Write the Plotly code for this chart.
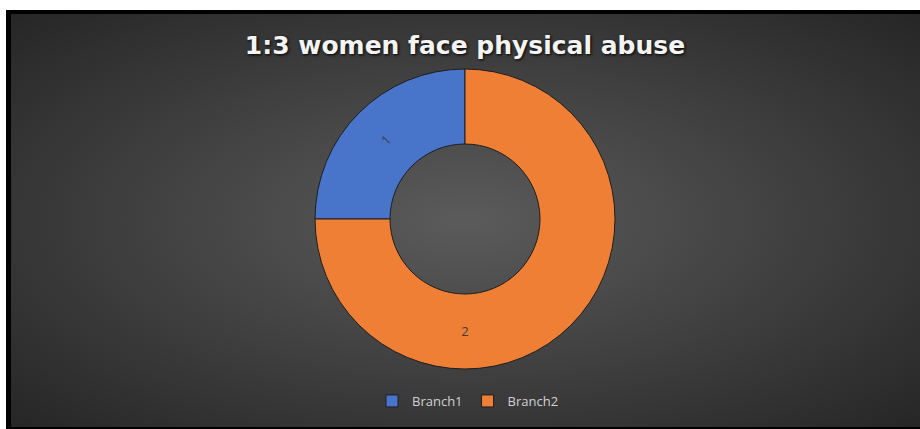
import base64
import plotly.graph_objects as go

categories = ["Branch1", "Branch2"]
values = [1, 3]
slice_labels = ["1", "2"]
colors = ["#4874ca", "#ef7f35"]

W, H = 920, 429

svg = (
    '<svg xmlns="http://www.w3.org/2000/svg" width="909" height="413">'
    '<defs><radialGradient id="g" cx="50%" cy="50%" r="72%">'
    '<stop offset="0%" stop-color="#5b5b5b"/>'
    '<stop offset="100%" stop-color="#252525"/>'
    '</radialGradient></defs>'
    '<rect width="909" height="413" fill="url(#g)"/></svg>'
)
bg_src = "data:image/svg+xml;base64," + base64.b64encode(svg.encode()).decode()

fig = go.Figure(
    go.Pie(
        labels=categories,
        values=values,
        text=slice_labels,
        textinfo="text",
        textposition="inside",
        insidetextorientation="tangential",
        textfont=dict(color="#3f3f3f", size=13, family="Open Sans"),
        hole=0.5,
        sort=False,
        direction="clockwise",
        rotation=-90,
        marker=dict(colors=colors, line=dict(color="#1e1e1e", width=1)),
        domain=dict(x=[315 / W, 615 / W], y=[1 - 369 / H, 1 - 69 / H]),
        showlegend=True,
    )
)

fig.update_layout(
    width=W,
    height=H,
    margin=dict(l=0, r=0, t=0, b=0),
    paper_bgcolor="#000000",
    plot_bgcolor="rgba(0,0,0,0)",
    title=dict(
        text="1:3 women face physical abuse",
        x=465 / W,
        xanchor="center",
        y=1 - 45 / H,
        yanchor="middle",
        font=dict(family="DejaVu Sans", size=25, color="#f4f4f4", weight="bold",
                  shadow="1px 1px 3px #000000"),
    ),
    legend=dict(
        orientation="h",
        x=468 / W,
        xanchor="center",
        y=1 - 401 / H,
        yanchor="middle",
        font=dict(family="Open Sans", size=13, color="#d0d0d0"),
        bgcolor="rgba(0,0,0,0)",
        itemwidth=30,
    ),
    images=[
        dict(
            source=bg_src,
            xref="paper",
            yref="paper",
            x=11 / W,
            y=1 - 14 / H,
            sizex=909 / W,
            sizey=413 / H,
            xanchor="left",
            yanchor="top",
            sizing="stretch",
            layer="below",
        )
    ],
    shapes=[
        dict(type="rect", xref="paper", yref="paper", x0=0, x1=6 / W, y0=0, y1=1,
             fillcolor="#ffffff", line=dict(width=0), layer="below"),
        dict(type="rect", xref="paper", yref="paper", x0=0, x1=1, y0=1 - 10 / H, y1=1,
             fillcolor="#ffffff", line=dict(width=0), layer="below"),
    ],
)

fig.write_html("out.html")
